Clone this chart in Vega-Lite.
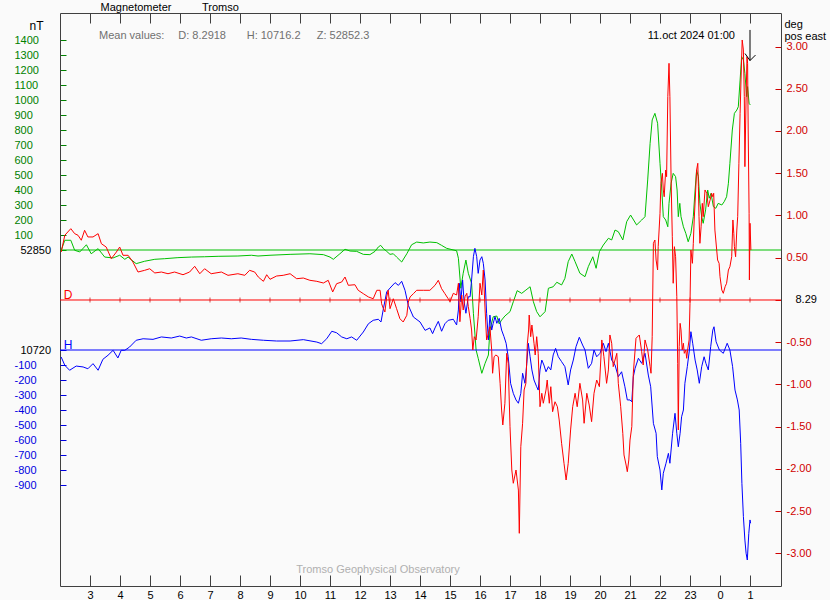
{
  "$schema": "https://vega.github.io/schema/vega-lite/v6.json",
  "width": 721,
  "height": 573,
  "autosize": "none",
  "padding": {"left": 60, "top": 13, "right": 49, "bottom": 14},
  "background": "#fafafa",
  "config": {
    "view": {"stroke": null},
    "font": "Liberation Sans",
    "axis": {"labelFont": "Liberation Sans", "labelFontSize": 11, "titleFont": "Liberation Sans", "titleFontSize": 11, "titleFontWeight": "normal", "titleColor": "#000000", "grid": false, "domainWidth": 1, "tickWidth": 1, "labelFlush": false, "labelOverlap": false},
    "text": {"font": "Liberation Sans", "fontSize": 11}
  },
  "datasets": {
    "Z": [
      {"t":0.04,"v":-2},{"t":0.16,"v":65},{"t":0.36,"v":65},{"t":0.49,"v":-2},{"t":0.66,"v":-13},{"t":0.88,"v":35},{"t":1.04,"v":-25},{"t":1.27,"v":9},{"t":1.49,"v":-47},{"t":1.77,"v":-53},{"t":1.99,"v":-35},{"t":2.16,"v":-62},{"t":2.27,"v":-47},{"t":2.4,"v":-69},{"t":2.54,"v":-91},{"t":2.82,"v":-75},{"t":3.16,"v":-62},{"t":3.49,"v":-58},{"t":3.93,"v":-51},{"t":4.38,"v":-47},{"t":4.82,"v":-45},{"t":5.27,"v":-42},{"t":5.93,"v":-40},{"t":6.38,"v":-35},{"t":6.6,"v":-40},{"t":7.0,"v":-35},{"t":7.67,"v":-29},{"t":8.33,"v":-25},{"t":8.78,"v":-31},{"t":9.0,"v":-47},{"t":9.11,"v":-62},{"t":9.33,"v":-25},{"t":9.5,"v":5},{"t":9.67,"v":-7},{"t":9.89,"v":-9},{"t":10.11,"v":-29},{"t":10.33,"v":-31},{"t":10.5,"v":-9},{"t":10.61,"v":20},{"t":10.69,"v":31},{"t":10.78,"v":9},{"t":10.89,"v":-9},{"t":11.0,"v":-29},{"t":11.11,"v":-25},{"t":11.22,"v":-47},{"t":11.39,"v":-80},{"t":11.56,"v":-25},{"t":11.72,"v":35},{"t":11.89,"v":53},{"t":12.11,"v":47},{"t":12.33,"v":53},{"t":12.56,"v":49},{"t":12.72,"v":31},{"t":12.89,"v":11},{"t":13.22,"v":-5},{"t":13.28,"v":-55},{"t":13.36,"v":-255},{"t":13.44,"v":-155},{"t":13.53,"v":-67},{"t":13.61,"v":-155},{"t":13.72,"v":-222},{"t":13.78,"v":-422},{"t":13.87,"v":-667},{"t":13.94,"v":-722},{"t":14.06,"v":-822},{"t":14.17,"v":-755},{"t":14.28,"v":-700},{"t":14.33,"v":-533},{"t":14.44,"v":-445},{"t":14.56,"v":-440},{"t":14.64,"v":-493},{"t":14.72,"v":-467},{"t":14.83,"v":-440},{"t":15.0,"v":-411},{"t":15.11,"v":-345},{"t":15.24,"v":-271},{"t":15.39,"v":-289},{"t":15.53,"v":-267},{"t":15.67,"v":-245},{"t":15.78,"v":-345},{"t":15.89,"v":-411},{"t":16.0,"v":-445},{"t":16.17,"v":-411},{"t":16.28,"v":-255},{"t":16.44,"v":-245},{"t":16.56,"v":-215},{"t":16.72,"v":-233},{"t":16.83,"v":-189},{"t":16.94,"v":-78},{"t":17.06,"v":-27},{"t":17.17,"v":-78},{"t":17.33,"v":-155},{"t":17.5,"v":-178},{"t":17.61,"v":-111},{"t":17.76,"v":-45},{"t":17.87,"v":-122},{"t":17.98,"v":-11},{"t":18.11,"v":33},{"t":18.28,"v":78},{"t":18.39,"v":67},{"t":18.5,"v":133},{"t":18.61,"v":122},{"t":18.76,"v":67},{"t":18.89,"v":189},{"t":19.02,"v":233},{"t":19.22,"v":167},{"t":19.39,"v":200},{"t":19.5,"v":222},{"t":19.59,"v":467},{"t":19.67,"v":711},{"t":19.74,"v":867},{"t":19.83,"v":911},{"t":19.92,"v":845},{"t":20.0,"v":578},{"t":20.06,"v":400},{"t":20.11,"v":222},{"t":20.19,"v":200},{"t":20.26,"v":155},{"t":20.3,"v":311},{"t":20.37,"v":445},{"t":20.44,"v":511},{"t":20.52,"v":489},{"t":20.57,"v":400},{"t":20.61,"v":222},{"t":20.66,"v":311},{"t":20.7,"v":222},{"t":20.78,"v":155},{"t":20.86,"v":111},{"t":20.94,"v":55},{"t":21.03,"v":111},{"t":21.11,"v":222},{"t":21.17,"v":400},{"t":21.22,"v":533},{"t":21.28,"v":489},{"t":21.33,"v":311},{"t":21.39,"v":222},{"t":21.44,"v":178},{"t":21.52,"v":267},{"t":21.59,"v":400},{"t":21.64,"v":345},{"t":21.7,"v":378},{"t":21.78,"v":289},{"t":21.86,"v":278},{"t":21.94,"v":311},{"t":22.06,"v":300},{"t":22.14,"v":322},{"t":22.22,"v":355},{"t":22.28,"v":445},{"t":22.33,"v":578},{"t":22.41,"v":800},{"t":22.48,"v":911},{"t":22.56,"v":933},{"t":22.61,"v":955},{"t":22.67,"v":1133},{"t":22.72,"v":1289},{"t":22.78,"v":1267},{"t":22.83,"v":1178},{"t":22.89,"v":1022},{"t":22.92,"v":1089},{"t":22.97,"v":978},{"t":23.01,"v":967}
    ],
    "H": [
      {"t":0.04,"v":-47},{"t":0.16,"v":-102},{"t":0.32,"v":-135},{"t":0.54,"v":-107},{"t":0.77,"v":-113},{"t":0.93,"v":-125},{"t":1.1,"v":-91},{"t":1.27,"v":-135},{"t":1.43,"v":-62},{"t":1.6,"v":-35},{"t":1.77,"v":-2},{"t":1.93,"v":-53},{"t":2.04,"v":-2},{"t":2.16,"v":-2},{"t":2.32,"v":20},{"t":2.54,"v":65},{"t":2.77,"v":75},{"t":3.1,"v":71},{"t":3.38,"v":87},{"t":3.71,"v":80},{"t":3.99,"v":93},{"t":4.21,"v":80},{"t":4.38,"v":87},{"t":4.71,"v":65},{"t":5.04,"v":75},{"t":5.38,"v":80},{"t":5.71,"v":75},{"t":6.04,"v":80},{"t":6.38,"v":71},{"t":6.78,"v":65},{"t":7.22,"v":60},{"t":7.67,"v":60},{"t":8.11,"v":69},{"t":8.56,"v":53},{"t":8.72,"v":42},{"t":8.89,"v":75},{"t":9.06,"v":125},{"t":9.22,"v":115},{"t":9.39,"v":87},{"t":9.56,"v":75},{"t":9.72,"v":87},{"t":9.89,"v":65},{"t":10.11,"v":120},{"t":10.28,"v":175},{"t":10.44,"v":198},{"t":10.61,"v":205},{"t":10.7,"v":187},{"t":10.78,"v":275},{"t":10.89,"v":387},{"t":11.0,"v":413},{"t":11.17,"v":449},{"t":11.28,"v":431},{"t":11.39,"v":458},{"t":11.5,"v":398},{"t":11.61,"v":298},{"t":11.78,"v":220},{"t":12.0,"v":187},{"t":12.17,"v":131},{"t":12.33,"v":147},{"t":12.42,"v":109},{"t":12.5,"v":147},{"t":12.61,"v":191},{"t":12.72,"v":125},{"t":12.83,"v":175},{"t":12.94,"v":198},{"t":13.11,"v":205},{"t":13.22,"v":167},{"t":13.28,"v":267},{"t":13.31,"v":445},{"t":13.36,"v":322},{"t":13.42,"v":467},{"t":13.47,"v":322},{"t":13.53,"v":245},{"t":13.61,"v":355},{"t":13.67,"v":355},{"t":13.72,"v":467},{"t":13.78,"v":622},{"t":13.83,"v":678},{"t":13.89,"v":622},{"t":13.94,"v":511},{"t":14.0,"v":600},{"t":14.06,"v":622},{"t":14.11,"v":578},{"t":14.17,"v":467},{"t":14.22,"v":245},{"t":14.28,"v":67},{"t":14.33,"v":233},{"t":14.39,"v":133},{"t":14.44,"v":178},{"t":14.5,"v":222},{"t":14.56,"v":178},{"t":14.64,"v":211},{"t":14.72,"v":133},{"t":14.8,"v":89},{"t":14.87,"v":45},{"t":14.94,"v":-45},{"t":15.02,"v":-222},{"t":15.11,"v":-289},{"t":15.2,"v":-333},{"t":15.28,"v":-355},{"t":15.36,"v":-289},{"t":15.42,"v":-155},{"t":15.5,"v":-222},{"t":15.56,"v":-89},{"t":15.61,"v":45},{"t":15.67,"v":-45},{"t":15.73,"v":-133},{"t":15.8,"v":-200},{"t":15.89,"v":-245},{"t":15.94,"v":-267},{"t":16.0,"v":-133},{"t":16.06,"v":-67},{"t":16.13,"v":-100},{"t":16.2,"v":-145},{"t":16.28,"v":-111},{"t":16.36,"v":-133},{"t":16.44,"v":-33},{"t":16.52,"v":11},{"t":16.61,"v":-45},{"t":16.72,"v":-78},{"t":16.83,"v":-111},{"t":16.94,"v":-233},{"t":17.02,"v":-133},{"t":17.11,"v":-67},{"t":17.2,"v":22},{"t":17.31,"v":85},{"t":17.42,"v":33},{"t":17.5,"v":0},{"t":17.61,"v":-122},{"t":17.72,"v":-89},{"t":17.8,"v":0},{"t":17.89,"v":-45},{"t":18.0,"v":-22},{"t":18.11,"v":45},{"t":18.2,"v":-11},{"t":18.28,"v":45},{"t":18.39,"v":-67},{"t":18.5,"v":-100},{"t":18.61,"v":-178},{"t":18.72,"v":-145},{"t":18.83,"v":-245},{"t":18.91,"v":-333},{"t":19.0,"v":-333},{"t":19.06,"v":-345},{"t":19.11,"v":-178},{"t":19.17,"v":-122},{"t":19.28,"v":-55},{"t":19.39,"v":-89},{"t":19.5,"v":-22},{"t":19.61,"v":-167},{"t":19.69,"v":-245},{"t":19.78,"v":-489},{"t":19.87,"v":-555},{"t":19.91,"v":-711},{"t":20.0,"v":-800},{"t":20.06,"v":-933},{"t":20.11,"v":-822},{"t":20.2,"v":-755},{"t":20.28,"v":-689},{"t":20.33,"v":-755},{"t":20.42,"v":-555},{"t":20.5,"v":-422},{"t":20.56,"v":-555},{"t":20.61,"v":-645},{"t":20.67,"v":-555},{"t":20.72,"v":-445},{"t":20.78,"v":-400},{"t":20.83,"v":-222},{"t":20.91,"v":-111},{"t":20.98,"v":0},{"t":21.03,"v":122},{"t":21.09,"v":45},{"t":21.17,"v":-67},{"t":21.24,"v":-133},{"t":21.31,"v":-222},{"t":21.39,"v":-111},{"t":21.47,"v":-45},{"t":21.53,"v":-89},{"t":21.61,"v":-133},{"t":21.69,"v":22},{"t":21.76,"v":133},{"t":21.8,"v":155},{"t":21.87,"v":55},{"t":21.98,"v":0},{"t":22.11,"v":-22},{"t":22.24,"v":45},{"t":22.33,"v":0},{"t":22.42,"v":-111},{"t":22.5,"v":-267},{"t":22.58,"v":-333},{"t":22.64,"v":-400},{"t":22.69,"v":-622},{"t":22.73,"v":-889},{"t":22.78,"v":-1111},{"t":22.83,"v":-1267},{"t":22.87,"v":-1355},{"t":22.91,"v":-1400},{"t":22.96,"v":-1222},{"t":23.0,"v":-1133},{"t":23.02,"v":-1155}
    ],
    "D": [
      {"t":0.04,"v":0.568},{"t":0.16,"v":0.766},{"t":0.36,"v":0.844},{"t":0.49,"v":0.785},{"t":0.6,"v":0.766},{"t":0.71,"v":0.707},{"t":0.82,"v":0.825},{"t":0.93,"v":0.746},{"t":1.1,"v":0.746},{"t":1.27,"v":0.785},{"t":1.38,"v":0.666},{"t":1.54,"v":0.627},{"t":1.71,"v":0.489},{"t":1.88,"v":0.568},{"t":1.99,"v":0.627},{"t":2.1,"v":0.529},{"t":2.27,"v":0.529},{"t":2.43,"v":0.45},{"t":2.6,"v":0.331},{"t":2.82,"v":0.351},{"t":2.99,"v":0.37},{"t":3.16,"v":0.32},{"t":3.38,"v":0.331},{"t":3.6,"v":0.311},{"t":3.82,"v":0.331},{"t":4.1,"v":0.299},{"t":4.32,"v":0.331},{"t":4.49,"v":0.399},{"t":4.66,"v":0.311},{"t":4.82,"v":0.37},{"t":5.04,"v":0.311},{"t":5.38,"v":0.331},{"t":5.6,"v":0.292},{"t":5.93,"v":0.311},{"t":6.16,"v":0.292},{"t":6.32,"v":0.351},{"t":6.49,"v":0.331},{"t":6.61,"v":0.272},{"t":6.78,"v":0.221},{"t":6.89,"v":0.299},{"t":7.0,"v":0.245},{"t":7.22,"v":0.284},{"t":7.44,"v":0.292},{"t":7.67,"v":0.311},{"t":7.89,"v":0.252},{"t":8.11,"v":0.26},{"t":8.33,"v":0.233},{"t":8.56,"v":0.221},{"t":8.78,"v":0.201},{"t":8.94,"v":0.233},{"t":9.09,"v":0.095},{"t":9.22,"v":0.193},{"t":9.39,"v":0.213},{"t":9.5,"v":0.272},{"t":9.61,"v":0.174},{"t":9.83,"v":0.181},{"t":9.94,"v":0.115},{"t":10.11,"v":0.075},{"t":10.28,"v":0.036},{"t":10.44,"v":0.015},{"t":10.56,"v":0.115},{"t":10.67,"v":0.115},{"t":10.72,"v":-0.044},{"t":10.78,"v":-0.103},{"t":10.83,"v":-0.142},{"t":10.89,"v":0.036},{"t":10.94,"v":0.115},{"t":11.0,"v":-0.103},{"t":11.11,"v":0.015},{"t":11.22,"v":-0.103},{"t":11.33,"v":-0.221},{"t":11.44,"v":-0.26},{"t":11.56,"v":-0.181},{"t":11.61,"v":-0.024},{"t":11.67,"v":0.036},{"t":11.78,"v":0.075},{"t":11.89,"v":0.115},{"t":12.11,"v":0.115},{"t":12.33,"v":0.115},{"t":12.5,"v":0.174},{"t":12.61,"v":0.233},{"t":12.72,"v":0.134},{"t":12.83,"v":0.075},{"t":12.94,"v":0.015},{"t":13.0,"v":-0.02},{"t":13.11,"v":0.079},{"t":13.22,"v":0.059},{"t":13.28,"v":0.198},{"t":13.33,"v":-0.257},{"t":13.39,"v":0.059},{"t":13.44,"v":-0.118},{"t":13.5,"v":0.039},{"t":13.56,"v":0.079},{"t":13.61,"v":-0.079},{"t":13.67,"v":-0.217},{"t":13.72,"v":-0.355},{"t":13.76,"v":-0.592},{"t":13.81,"v":-0.434},{"t":13.87,"v":-0.473},{"t":13.94,"v":-0.198},{"t":14.0,"v":0.198},{"t":14.06,"v":0.059},{"t":14.11,"v":0.355},{"t":14.17,"v":-0.118},{"t":14.22,"v":-0.473},{"t":14.28,"v":-0.394},{"t":14.33,"v":-0.316},{"t":14.39,"v":-0.592},{"t":14.42,"v":-0.867},{"t":14.47,"v":-0.671},{"t":14.53,"v":-0.651},{"t":14.61,"v":-0.671},{"t":14.67,"v":-0.986},{"t":14.72,"v":-1.302},{"t":14.76,"v":-1.479},{"t":14.83,"v":-1.222},{"t":14.89,"v":-0.631},{"t":14.94,"v":-0.749},{"t":15.0,"v":-1.499},{"t":15.06,"v":-2.012},{"t":15.11,"v":-2.169},{"t":15.2,"v":-2.012},{"t":15.28,"v":-2.249},{"t":15.31,"v":-2.761},{"t":15.36,"v":-1.736},{"t":15.42,"v":-1.459},{"t":15.47,"v":-1.065},{"t":15.53,"v":-0.986},{"t":15.58,"v":-0.512},{"t":15.62,"v":-0.355},{"t":15.64,"v":-0.178},{"t":15.69,"v":-0.434},{"t":15.73,"v":-0.296},{"t":15.8,"v":-0.512},{"t":15.84,"v":-0.651},{"t":15.89,"v":-0.434},{"t":15.94,"v":-0.631},{"t":16.0,"v":-1.263},{"t":16.06,"v":-1.104},{"t":16.11,"v":-1.222},{"t":16.2,"v":-1.065},{"t":16.24,"v":-0.947},{"t":16.31,"v":-1.222},{"t":16.36,"v":-1.026},{"t":16.42,"v":-1.322},{"t":16.5,"v":-1.204},{"t":16.58,"v":-1.263},{"t":16.64,"v":-1.42},{"t":16.72,"v":-1.696},{"t":16.8,"v":-1.933},{"t":16.87,"v":-2.13},{"t":16.94,"v":-1.933},{"t":17.02,"v":-1.538},{"t":17.09,"v":-1.263},{"t":17.17,"v":-1.104},{"t":17.24,"v":-1.263},{"t":17.33,"v":-0.986},{"t":17.42,"v":-1.183},{"t":17.47,"v":-1.459},{"t":17.56,"v":-1.104},{"t":17.64,"v":-1.243},{"t":17.72,"v":-1.44},{"t":17.8,"v":-1.104},{"t":17.89,"v":-0.947},{"t":17.98,"v":-1.026},{"t":18.06,"v":-0.473},{"t":18.13,"v":-0.671},{"t":18.22,"v":-0.986},{"t":18.28,"v":-0.828},{"t":18.33,"v":-0.414},{"t":18.39,"v":-0.512},{"t":18.44,"v":-0.789},{"t":18.5,"v":-0.71},{"t":18.56,"v":-0.631},{"t":18.61,"v":-0.986},{"t":18.69,"v":-1.263},{"t":18.76,"v":-1.578},{"t":18.8,"v":-1.834},{"t":18.87,"v":-1.953},{"t":18.91,"v":-2.032},{"t":18.96,"v":-1.893},{"t":19.0,"v":-1.657},{"t":19.06,"v":-1.499},{"t":19.11,"v":-0.867},{"t":19.2,"v":-0.453},{"t":19.31,"v":-0.414},{"t":19.39,"v":-0.612},{"t":19.44,"v":-0.769},{"t":19.5,"v":-0.473},{"t":19.59,"v":-0.592},{"t":19.67,"v":-0.789},{"t":19.7,"v":-0.867},{"t":19.74,"v":-0.434},{"t":19.78,"v":0.671},{"t":19.83,"v":0.71},{"t":19.87,"v":0.473},{"t":19.92,"v":0.355},{"t":19.94,"v":0.631},{"t":20.0,"v":1.026},{"t":20.03,"v":1.381},{"t":20.08,"v":1.499},{"t":20.11,"v":1.302},{"t":20.14,"v":1.222},{"t":20.19,"v":1.538},{"t":20.22,"v":1.459},{"t":20.26,"v":2.406},{"t":20.3,"v":2.801},{"t":20.33,"v":2.406},{"t":20.37,"v":1.42},{"t":20.41,"v":0.749},{"t":20.44,"v":0.198},{"t":20.48,"v":0.631},{"t":20.52,"v":0.512},{"t":20.56,"v":0.039},{"t":20.59,"v":-0.749},{"t":20.61,"v":-1.538},{"t":20.64,"v":-0.553},{"t":20.67,"v":-0.276},{"t":20.7,"v":-0.355},{"t":20.74,"v":-0.592},{"t":20.78,"v":-0.512},{"t":20.81,"v":-0.631},{"t":20.86,"v":-0.592},{"t":20.89,"v":-0.69},{"t":20.92,"v":-0.592},{"t":20.97,"v":-0.473},{"t":21.0,"v":-0.039},{"t":21.03,"v":0.592},{"t":21.08,"v":0.434},{"t":21.11,"v":0.671},{"t":21.14,"v":0.947},{"t":21.19,"v":1.302},{"t":21.22,"v":1.538},{"t":21.26,"v":1.618},{"t":21.28,"v":1.341},{"t":21.3,"v":0.986},{"t":21.33,"v":0.671},{"t":21.37,"v":0.867},{"t":21.41,"v":1.144},{"t":21.44,"v":0.986},{"t":21.5,"v":1.302},{"t":21.56,"v":1.263},{"t":21.61,"v":1.104},{"t":21.67,"v":1.183},{"t":21.72,"v":1.263},{"t":21.76,"v":1.222},{"t":21.79,"v":1.263},{"t":21.83,"v":0.828},{"t":21.89,"v":0.592},{"t":21.92,"v":0.473},{"t":21.97,"v":0.434},{"t":22.0,"v":0.276},{"t":22.06,"v":0.118},{"t":22.11,"v":0.079},{"t":22.17,"v":0.157},{"t":22.22,"v":0.198},{"t":22.28,"v":0.355},{"t":22.33,"v":0.394},{"t":22.39,"v":0.512},{"t":22.43,"v":0.947},{"t":22.46,"v":0.789},{"t":22.48,"v":0.631},{"t":22.52,"v":0.512},{"t":22.56,"v":0.828},{"t":22.59,"v":0.986},{"t":22.63,"v":1.618},{"t":22.67,"v":2.209},{"t":22.7,"v":2.604},{"t":22.74,"v":3.077},{"t":22.78,"v":2.959},{"t":22.81,"v":2.406},{"t":22.83,"v":1.578},{"t":22.87,"v":2.406},{"t":22.9,"v":2.879},{"t":22.92,"v":2.801},{"t":22.94,"v":2.012},{"t":22.97,"v":1.026},{"t":22.98,"v":0.237},{"t":23.0,"v":0.908},{"t":23.03,"v":0.592}
    ],
    "hours": [
      {"t":1},{"t":2},{"t":3},{"t":4},{"t":5},{"t":6},{"t":7},{"t":8},{"t":9},{"t":10},{"t":11},{"t":12},{"t":13},{"t":14},{"t":15},{"t":16},{"t":17},{"t":18},{"t":19},{"t":20},{"t":21},{"t":22},{"t":23}
    ],
    "baseline": [{"v":0}],
    "means": [
      {"t":1.3,"v":1409,"text":"Mean values:"},
      {"t":3.943,"v":1409,"text":"D: 8.2918"},
      {"t":6.223,"v":1409,"text":"H: 10716.2"},
      {"t":8.557,"v":1409,"text":"Z: 52852.3"}
    ],
    "stamp": [{"t":19.59,"v":1409,"text":"11.oct 2024 01:00"}],
    "footer": [{"t":10.6,"v":-2150,"text":"Tromso Geophysical Observatory"}],
    "arrow": [{"t":23,"top":1467,"tip":1263}],
    "dlabel": [{"t":0.123,"v":0.015,"text":"D"}],
    "hlabel": [{"t":0.123,"v":4.7,"text":"H"}]
  },
  "layer": [
    {
      "data": {"name": "Z"},
      "mark": {"type": "line", "color": "#00c000", "strokeWidth": 1},
      "encoding": {
        "x": {"field": "t", "type": "quantitative", "scale": {"domain": [0, 24.0333], "nice": false, "zero": false},
          "axis": {"orient": "bottom", "values": [1,2,3,4,5,6,7,8,9,10,11,12,13,14,15,16,17,18,19,20,21,22,23], "labelExpr": "(datum.value + 2) % 24", "tickSize": -11, "tickColor": "#404040", "domainColor": "#404040", "labelColor": "#000000", "labelPadding": 14, "title": null}},
        "y": {"field": "v", "type": "quantitative", "scale": {"domain": [-2240, 1580], "nice": false, "zero": false},
          "axis": {"orient": "left", "values": [0,100,200,300,400,500,600,700,800,900,1000,1100,1200,1300,1400], "labelExpr": "datum.value == 0 ? '52850' : '' + datum.value", "labelAlign": "left", "labelBaseline": "middle", "labelPadding": {"condition": {"test": "datum.value == 0", "value": 46}, "value": 52}, "labelColor": {"condition": {"test": "datum.value == 0", "value": "#000000"}, "value": "#008000"}, "tickColor": "#008000", "tickSize": -6, "domainColor": "#404040", "title": "nT", "titleAngle": 0, "titleX": -31, "titleY": 16.3, "titleAlign": "left", "titleBaseline": "alphabetic", "titleFontSize": 12}}
      }
    },
    {
      "data": {"name": "baseline"},
      "mark": {"type": "rule", "color": "#00c000", "strokeWidth": 1},
      "encoding": {"y": {"field": "v", "type": "quantitative", "scale": {"domain": [-2240, 1580], "nice": false, "zero": false}, "axis": null}}
    },
    {
      "data": {"name": "H"},
      "mark": {"type": "line", "color": "#0000ff", "strokeWidth": 1},
      "encoding": {
        "x": {"field": "t", "type": "quantitative", "scale": {"domain": [0, 24.0333], "nice": false, "zero": false}, "axis": null},
        "y": {"field": "v", "type": "quantitative", "scale": {"domain": [-1573.333, 2246.667], "nice": false, "zero": false},
          "axis": {"orient": "left", "values": [0,-100,-200,-300,-400,-500,-600,-700,-800,-900], "labelExpr": "datum.value == 0 ? '10720' : '' + datum.value", "labelAlign": "left", "labelBaseline": "middle", "labelPadding": {"condition": {"test": "datum.value == 0", "value": 46}, "value": 52}, "labelColor": {"condition": {"test": "datum.value == 0", "value": "#000000"}, "value": "#0000e0"}, "tickColor": "#0000e0", "tickSize": -6, "domain": false, "title": null}}
      }
    },
    {
      "data": {"name": "baseline"},
      "mark": {"type": "rule", "color": "#0000ff", "strokeWidth": 1},
      "encoding": {"y": {"field": "v", "type": "quantitative", "scale": {"domain": [-1573.333, 2246.667], "nice": false, "zero": false}, "axis": null}}
    },
    {
      "data": {"name": "baseline"},
      "mark": {"type": "rule", "color": "#ff0000", "strokeWidth": 1},
      "encoding": {"y": {"field": "v", "type": "quantitative", "scale": {"domain": [-3.38462, 3.39645], "nice": false, "zero": false}, "axis": null}}
    },
    {
      "data": {"name": "hours"},
      "mark": {"type": "tick", "orient": "vertical", "color": "#c00000", "size": 5, "thickness": 1},
      "encoding": {
        "x": {"field": "t", "type": "quantitative", "scale": {"domain": [0, 24.0333], "nice": false, "zero": false}, "axis": null},
        "y": {"datum": 0, "type": "quantitative", "scale": {"domain": [-3.38462, 3.39645], "nice": false, "zero": false}, "axis": null}
      }
    },
    {
      "data": {"name": "D"},
      "mark": {"type": "line", "color": "#ff0000", "strokeWidth": 1},
      "encoding": {
        "x": {"field": "t", "type": "quantitative", "scale": {"domain": [0, 24.0333], "nice": false, "zero": false},
          "axis": {"orient": "top", "values": [1,2,3,4,5,6,7,8,9,10,11,12,13,14,15,16,17,18,19,20,21,22,23], "labels": false, "tickSize": -10, "tickColor": "#404040", "domainColor": "#404040", "title": "Magnetometer\u00a0\u00a0\u00a0\u00a0\u00a0\u00a0\u00a0\u00a0\u00a0\u00a0Tromso", "titleX": 40, "titleY": -2.7, "titleAlign": "left", "titleAnchor": null, "titleBaseline": "alphabetic"}},
        "y": {"field": "v", "type": "quantitative", "scale": {"domain": [-3.38462, 3.39645], "nice": false, "zero": false},
          "axis": {"orient": "right", "values": [-3,-2.5,-2,-1.5,-1,-0.5,0,0.5,1,1.5,2,2.5,3], "labelExpr": "datum.value == 0 ? '8.29' : (datum.value < 0 ? '-' : '') + format(abs(datum.value), '.2f')", "labelAlign": "left", "labelBaseline": "middle", "labelPadding": {"condition": {"test": "datum.value == 0", "value": 20}, "value": 11}, "labelColor": {"condition": {"test": "datum.value == 0", "value": "#000000"}, "value": "#d00000"}, "tickColor": "#d00000", "tickSize": -6, "domainColor": "#404040", "title": ["deg", "pos east"], "titleAngle": 0, "titleX": 3, "titleY": 14, "titleAlign": "left", "titleBaseline": "alphabetic", "titleLineHeight": 12, "titleFontSize": 11}}
      }
    },
    {
      "data": {"name": "means"},
      "mark": {"type": "text", "align": "left", "baseline": "alphabetic", "color": "#707070", "fontSize": 11},
      "encoding": {
        "x": {"field": "t", "type": "quantitative", "scale": {"domain": [0, 24.0333], "nice": false, "zero": false}, "axis": null},
        "y": {"field": "v", "type": "quantitative", "scale": {"domain": [-2240, 1580], "nice": false, "zero": false}, "axis": null},
        "text": {"field": "text"}
      }
    },
    {
      "data": {"name": "stamp"},
      "mark": {"type": "text", "align": "left", "baseline": "alphabetic", "color": "#000000", "fontSize": 11},
      "encoding": {
        "x": {"field": "t", "type": "quantitative", "scale": {"domain": [0, 24.0333], "nice": false, "zero": false}, "axis": null},
        "y": {"field": "v", "type": "quantitative", "scale": {"domain": [-2240, 1580], "nice": false, "zero": false}, "axis": null},
        "text": {"field": "text"}
      }
    },
    {
      "data": {"name": "footer"},
      "mark": {"type": "text", "align": "center", "baseline": "alphabetic", "color": "#b0b0b0", "fontSize": 11},
      "encoding": {
        "x": {"field": "t", "type": "quantitative", "scale": {"domain": [0, 24.0333], "nice": false, "zero": false}, "axis": null},
        "y": {"field": "v", "type": "quantitative", "scale": {"domain": [-2240, 1580], "nice": false, "zero": false}, "axis": null},
        "text": {"field": "text"}
      }
    },
    {
      "data": {"name": "arrow"},
      "mark": {"type": "rule", "color": "#000000", "strokeWidth": 1},
      "encoding": {
        "x": {"field": "t", "type": "quantitative", "scale": {"domain": [0, 24.0333], "nice": false, "zero": false}, "axis": null},
        "y": {"field": "top", "type": "quantitative", "scale": {"domain": [-2240, 1580], "nice": false, "zero": false}, "axis": null},
        "y2": {"field": "tip"}
      }
    },
    {
      "data": {"name": "arrow"},
      "mark": {"type": "point", "shape": "M-1,-1.4L0,0L1.1,-1.1", "size": 100, "filled": false, "color": "#000000", "strokeWidth": 1, "opacity": 1},
      "encoding": {
        "x": {"field": "t", "type": "quantitative", "scale": {"domain": [0, 24.0333], "nice": false, "zero": false}, "axis": null},
        "y": {"field": "tip", "type": "quantitative", "scale": {"domain": [-2240, 1580], "nice": false, "zero": false}, "axis": null}
      }
    },
    {
      "data": {"name": "dlabel"},
      "mark": {"type": "text", "align": "left", "baseline": "alphabetic", "color": "#ff0000", "fontSize": 12},
      "encoding": {
        "x": {"field": "t", "type": "quantitative", "scale": {"domain": [0, 24.0333], "nice": false, "zero": false}, "axis": null},
        "y": {"field": "v", "type": "quantitative", "scale": {"domain": [-3.38462, 3.39645], "nice": false, "zero": false}, "axis": null},
        "text": {"field": "text"}
      }
    },
    {
      "data": {"name": "hlabel"},
      "mark": {"type": "text", "align": "left", "baseline": "alphabetic", "color": "#0000ff", "fontSize": 12},
      "encoding": {
        "x": {"field": "t", "type": "quantitative", "scale": {"domain": [0, 24.0333], "nice": false, "zero": false}, "axis": null},
        "y": {"field": "v", "type": "quantitative", "scale": {"domain": [-1573.333, 2246.667], "nice": false, "zero": false}, "axis": null},
        "text": {"field": "text"}
      }
    }
  ],
  "resolve": {"scale": {"x": "independent", "y": "independent"}}
}
